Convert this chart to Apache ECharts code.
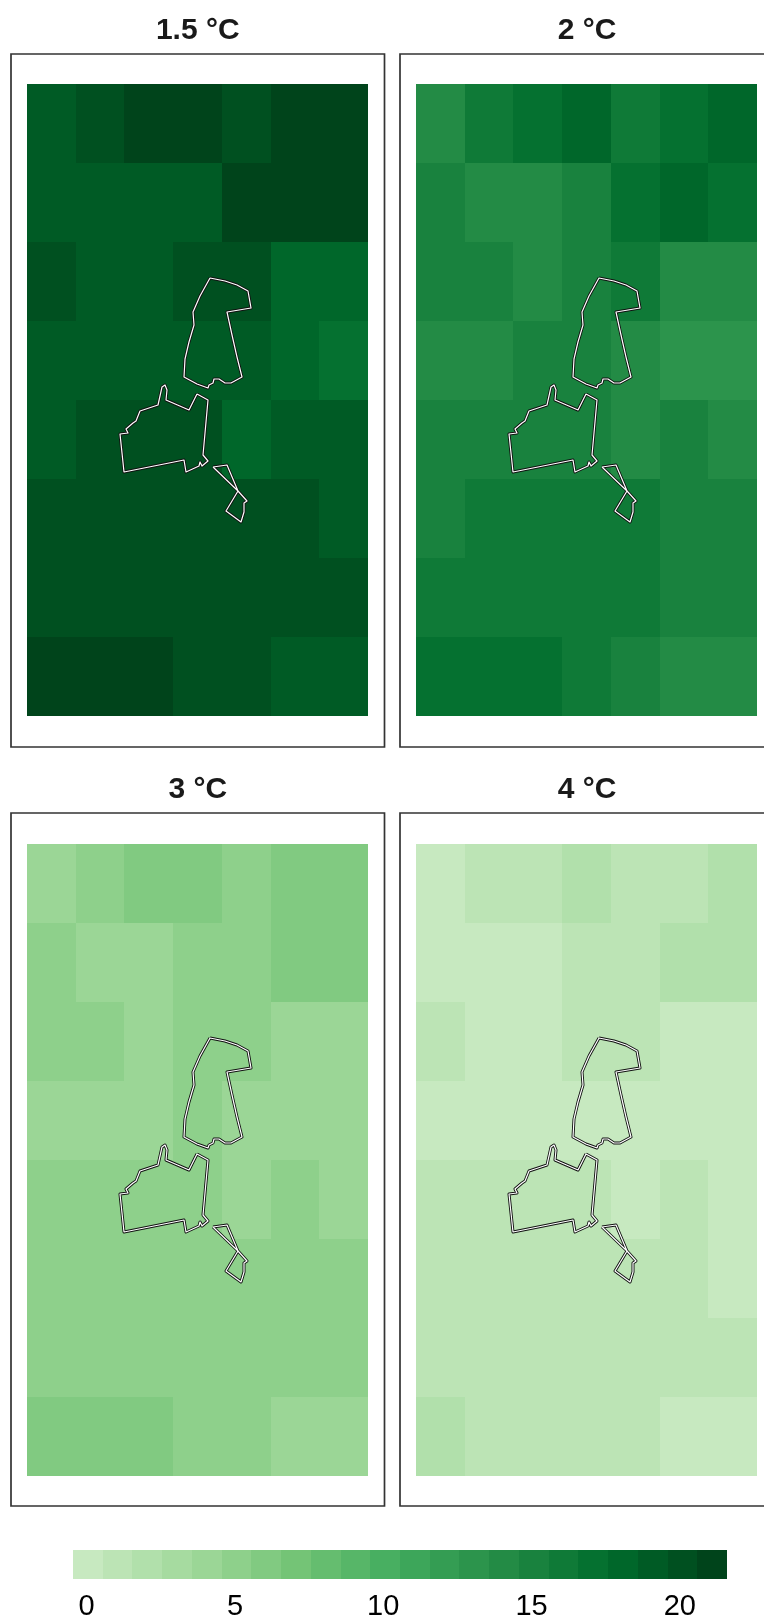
<!DOCTYPE html>
<html><head><meta charset="utf-8">
<style>html,body{margin:0;padding:0;background:#fff}#c{width:764px;height:1621px}</style>
<script src="https://cdn.jsdelivr.net/npm/echarts@6/dist/echarts.min.js"></script>
</head><body><div id="c"></div>
<script>
const panelTitles = ['1.5 °C','2 °C','3 °C','4 °C'];
const ticks = [0,5,10,15,20];
const rampNodes = ['#c7e9c0','#a1d99b','#74c476','#41ab5d','#238b45','#006d2c','#00441b'];
// cell values, north to south, west to east
const warming15 = [
 [19,20,21,21,20,21,21],
 [19,19,19,19,21,21,21],
 [20,19,19,20,20,18,18],
 [19,19,19,19,19,18,17],
 [19,20,20,20,18,19,19],
 [20,20,20,20,20,20,19],
 [20,20,20,20,20,20,20],
 [21,21,21,20,20,19,19]];
const warming2 = [
 [14,16,17,18,16,17,18],
 [15,14,14,15,17,18,17],
 [15,15,14,15,16,14,14],
 [14,14,15,15,14,13,13],
 [15,15,15,15,14,15,14],
 [15,16,16,16,16,15,15],
 [16,16,16,16,16,15,15],
 [17,17,17,16,15,14,14]];
const warming3 = [
 [4,5,6,6,5,6,6],
 [5,4,4,5,5,6,6],
 [5,5,4,5,5,4,4],
 [4,4,4,5,4,4,4],
 [5,5,5,5,4,5,4],
 [5,5,5,5,5,5,5],
 [5,5,5,5,5,5,5],
 [6,6,6,5,5,4,4]];
const warming4 = [
 [0,1,1,2,1,1,2],
 [0,0,0,1,1,2,2],
 [1,0,0,1,1,0,0],
 [0,0,0,0,0,0,0],
 [1,1,1,1,0,1,0],
 [1,1,1,1,1,1,0],
 [1,1,1,1,1,1,1],
 [2,1,1,1,1,0,0]];
// site outlines in km east / north of the south-west corner of the raster
const siteNorth = [[183,438],[198,435],[210,431],[221,425],[224,408],[200,404],[205,381],[210,359],[215,339],[204,333],[198,333],[192,337],[187,337],[186,333],[182,331],[181,328],[170,332],[157,339],[158,357],[162,374],[167,391],[166,404],[173,420],[183,438]];
const siteWest = [[170,322],[181,316],[176,261],[181,255],[175,250],[173,254],[172,250],[159,244],[157,256],[97,244],[93,282],[101,283],[102,285],[99,287],[106,293],[109,295],[113,305],[131,311],[135,329],[138,331],[140,326],[139,316],[162,306],[170,322]];
const siteSouth = [[186,249],[200,251],[211,225],[220,215],[217,213],[217,204],[214,194],[199,205],[211,225],[186,249]];
const sites = [siteNorth, siteWest, siteSouth];

const allValues = [warming15, warming2, warming3, warming4];
const colorCount = 22;
function hex(c){return [1,3,5].map(i=>parseInt(c.substr(i,2),16));}
const palette = Array.from({length:colorCount},(_,i)=>{
  const t=i/(colorCount-1)*(rampNodes.length-1), a=Math.min(Math.floor(t),rampNodes.length-2), f=t-a;
  const A=hex(rampNodes[a]),B=hex(rampNodes[a+1]);
  return 'rgb('+A.map((v,k)=>Math.round(v+(B[k]-v)*f)).join(',')+')';
});
function renderCell(params,api){
  const c=api.coord([api.value(0),api.value(1)]), s=api.size([1,1]);
  const x0=Math.round(c[0]-s[0]/2), x1=Math.round(c[0]+s[0]/2), y0=Math.round(c[1]-s[1]/2), y1=Math.round(c[1]+s[1]/2);
  return {type:'rect',shape:{x:x0,y:y0,width:x1-x0,height:y1-y0},style:{fill:palette[api.value(2)],stroke:null}};
}
const FONT='"Liberation Sans", Arial, sans-serif';
const frames=[{x:11,y:54,w:373.5,h:693},{x:400,y:54,w:374,h:693},{x:11,y:813,w:373.5,h:693},{x:400,y:813,w:374,h:693}];
const cells=[{l:27,t:84},{l:416,t:84},{l:27,t:844},{l:416,t:844}];
const CW=341,CH=632;
const grid=[],xAxis=[],yAxis=[],series=[],title=[],graphic=[];
allValues.forEach((rows,p)=>{
  grid.push({left:cells[p].l,top:cells[p].t,width:CW,height:CH,containLabel:false});
  const catX=xAxis.length, catY=yAxis.length;
  xAxis.push({type:'category',gridIndex:p,data:rows[0].map((_,i)=>i),show:false});
  yAxis.push({type:'category',gridIndex:p,data:rows.map((_,i)=>i),inverse:true,show:false});
  const valX=xAxis.length, valY=yAxis.length;
  xAxis.push({type:'value',gridIndex:p,min:0,max:CW,show:false});
  yAxis.push({type:'value',gridIndex:p,min:0,max:CH,show:false});
  const data=[];
  rows.forEach((r,y)=>r.forEach((v,x)=>data.push([x,y,v])));
  series.push({type:'custom',coordinateSystem:'cartesian2d',xAxisIndex:catX,yAxisIndex:catY,data,silent:true,animation:false,renderItem:renderCell,encode:{x:0,y:1}});
  sites.forEach(s=>{
    series.push({type:'line',xAxisIndex:valX,yAxisIndex:valY,data:s,showSymbol:false,silent:true,animation:false,z:5,lineStyle:{color:'#111',width:3,join:'round'}});
  });
  sites.forEach(s=>{
    series.push({type:'line',xAxisIndex:valX,yAxisIndex:valY,data:s,showSymbol:false,silent:true,animation:false,z:6,lineStyle:{color:'#fff',width:1.2,join:'round'}});
  });
  const f=frames[p];
  graphic.push({type:'rect',silent:true,z:10,shape:{x:f.x,y:f.y,width:f.w,height:f.h},style:{fill:'none',stroke:'#333',lineWidth:1.7}});
  title.push({text:panelTitles[p],left:f.x+f.w/2,top:f.y-38,padding:0,textAlign:'center',textStyle:{fontFamily:FONT,fontSize:30,fontWeight:'bold',color:'#1a1a1a'}});
});
// colour bar
const barP=4;
grid.push({left:73,top:1550,width:654,height:30});
const barX=xAxis.length;
xAxis.push({type:'category',gridIndex:barP,data:palette.map((_,i)=>i),show:false});
const labelX=xAxis.length;
xAxis.push({type:'value',gridIndex:barP,min:-0.46,max:21.59,position:'bottom',axisLine:{show:false},axisTick:{show:false},splitLine:{show:false},
  axisLabel:{customValues:ticks,margin:13,color:'#000',fontFamily:FONT,fontSize:29,showMinLabel:true,showMaxLabel:true,hideOverlap:false}});
yAxis.push({type:'category',gridIndex:barP,data:[0],show:false});
series.push({type:'custom',coordinateSystem:'cartesian2d',xAxisIndex:barX,yAxisIndex:yAxis.length-1,data:palette.map((_,i)=>[i,0,i]),silent:true,animation:false,renderItem:renderCell,encode:{x:0,y:1}});
const chart=echarts.init(document.getElementById('c'),null,{renderer:'canvas'});
chart.setOption({animation:false,backgroundColor:'#fff',title,grid,xAxis,yAxis,series,graphic});
</script></body></html>
